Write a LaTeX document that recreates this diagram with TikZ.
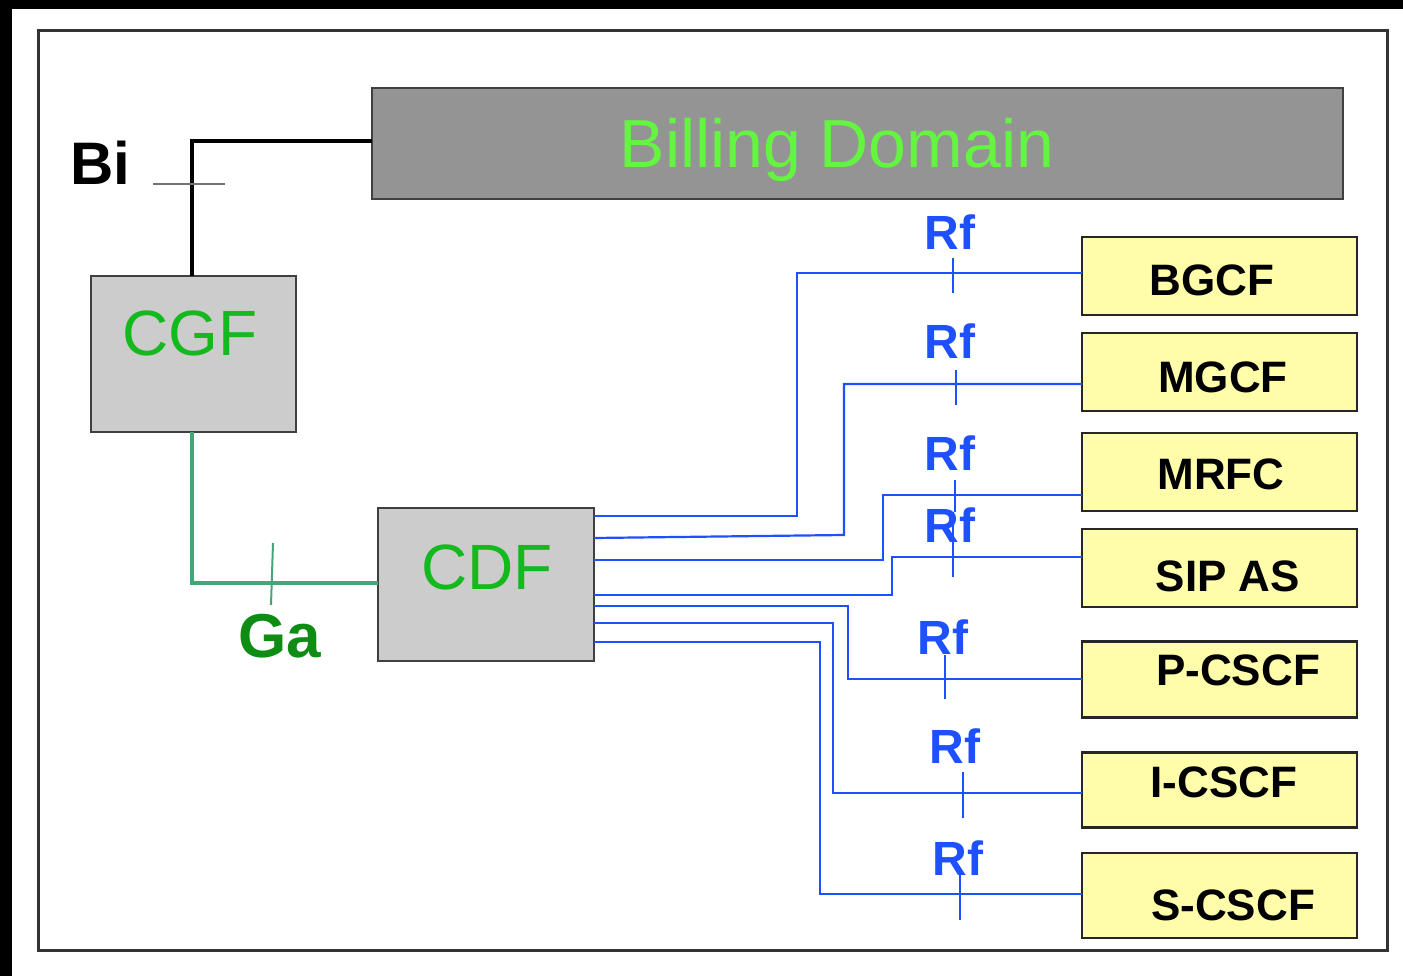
\documentclass[tikz,border=0pt]{standalone}
\usepackage{fontspec}
\setmainfont{Liberation Sans}
\begin{document}
\begin{tikzpicture}[x=1pt,y=-1pt,
  gbox/.style={draw=black!75,line width=2.5pt,fill=black!20,inner sep=0pt,outer sep=0pt},
  ybox/.style={draw=black!85,line width=2.5pt,fill=yellow!35,inner sep=0pt,outer sep=0pt},
  ytext/.style={font=\fontsize{44}{50}\selectfont\bfseries,text=black},
  rflab/.style={font=\fontsize{48}{54}\selectfont\bfseries,text=rfblue,inner sep=0pt},
  rf/.style={draw=rfblue,line width=2.2pt},
  ga/.style={draw=gacol,line width=4pt},
  bi/.style={draw=black,line width=4pt}]
\definecolor{rfblue}{RGB}{30,80,255}
\definecolor{gacol}{RGB}{70,165,120}
\definecolor{billgray}{RGB}{148,148,148}
\definecolor{billtext}{RGB}{100,245,65}
\definecolor{cgftext}{RGB}{20,185,30}
\definecolor{gatext}{RGB}{15,140,20}
\definecolor{yfill}{RGB}{255,252,170}
\useasboundingbox (0,0) rectangle (1403,976);
\fill[white] (0,0) rectangle (1403,976);
\fill[black] (0,0) rectangle (1403,9);
\fill[black] (0,0) rectangle (12,976);
\draw[draw=black!80,line width=3pt] (38,31) rectangle (1387,950);

% boxes
\node[gbox,fill=billgray,minimum width=971pt,minimum height=111pt] (bill) at (857.5,143.5) {};
\node[font=\fontsize{68}{76}\selectfont,text=billtext] (billt) at (837,150) {Billing Domain};
\node[gbox,minimum width=205pt,minimum height=156pt] (cgf) at (193.5,354) {};
\node[font=\fontsize{64}{72}\selectfont,text=cgftext] (cgft) at (190,333) {CGF};
\node[gbox,minimum width=216pt,minimum height=153pt] (cdf) at (486,584.5) {};
\node[font=\fontsize{64}{72}\selectfont,text=cgftext] (cdft) at (487,567) {CDF};

\node[ybox,fill=yfill,minimum width=275pt,minimum height=78pt] (bgcf) at (1219.5,276) {};
\node[ybox,fill=yfill,minimum width=275pt,minimum height=78pt] (mgcf) at (1219.5,372) {};
\node[ybox,fill=yfill,minimum width=275pt,minimum height=78pt] (mrfc) at (1219.5,472) {};
\node[ybox,fill=yfill,minimum width=275pt,minimum height=78pt] (sipas) at (1219.5,568) {};
\node[ybox,fill=yfill,minimum width=275pt,minimum height=76pt] (pcscf) at (1219.5,679.5) {};
\node[ybox,fill=yfill,minimum width=275pt,minimum height=75pt] (icscf) at (1219.5,790) {};
\node[ybox,fill=yfill,minimum width=275pt,minimum height=85pt] (scscf) at (1219.5,895.5) {};
\node[ytext] (bgcft) at (1212,280) {BGCF};
\node[ytext] (mgcft) at (1223,377) {MGCF};
\node[ytext] (mrfct) at (1221,474) {MRFC};
\node[ytext] (sipast) at (1228,576) {SIP AS};
\node[ytext] (pcscft) at (1238,670) {P-CSCF};
\node[ytext] (icscft) at (1224,782) {I-CSCF};
\node[ytext] (scscft) at (1233,905) {S-CSCF};

% Bi
\draw[bi] (bill.west |- 0,141) -| (cgf.north -| 192,0);
\draw[draw=black!55,line width=2pt] (153,184) -- (225,184);
\node[font=\fontsize{60}{66}\selectfont\bfseries,text=black] (bil) at (100,163) {Bi};

% Ga
\draw[ga] (cgf.south -| 192,0) |- (cdf.west |- 0,583);
\draw[draw=gacol,line width=2pt] (273,543) -- (271,605);
\node[font=\fontsize{62}{68}\selectfont\bfseries,text=gatext] (gal) at (280,636) {Ga};

% Rf connectors
\draw[rf] ([yshift=68.5pt]cdf.east) -| (797,273) -- ([yshift=3pt]bgcf.west);
\draw[rf] ([yshift=46.5pt]cdf.east) -- (844,535) -- (844,384) -- ([yshift=-12pt]mgcf.west);
\draw[rf] ([yshift=24.5pt]cdf.east) -| (883,495) -- ([yshift=-23pt]mrfc.west);
\draw[rf] ([yshift=-10.5pt]cdf.east) -| (892,557) -- ([yshift=11pt]sipas.west);
\draw[rf] ([yshift=-21.5pt]cdf.east) -| (848,679) -- ([yshift=0.5pt]pcscf.west);
\draw[rf] ([yshift=-38.5pt]cdf.east) -| (833,793) -- ([yshift=-3pt]icscf.west);
\draw[rf] ([yshift=-57.5pt]cdf.east) -| (820,894) -- ([yshift=1.5pt]scscf.west);

% ticks
\draw[rf] (953,258) -- (953,293);
\draw[rf] (956,370) -- (956,405);
\draw[rf] (955,480) -- (955,512);
\draw[rf] (953,512) -- (953,577);
\draw[rf] (945,655) -- (945,699);
\draw[rf] (963,772) -- (963,818);
\draw[rf] (960,875) -- (960,920);

\node[rflab] (rf1) at (950,232) {Rf};
\node[rflab] (rf2) at (950,341) {Rf};
\node[rflab] (rf3) at (950,453) {Rf};
\node[rflab] (rf4) at (950,525) {Rf};
\node[rflab] (rf5) at (943,637) {Rf};
\node[rflab] (rf6) at (955,746) {Rf};
\node[rflab] (rf7) at (958,858) {Rf};
\end{tikzpicture}
\end{document}
